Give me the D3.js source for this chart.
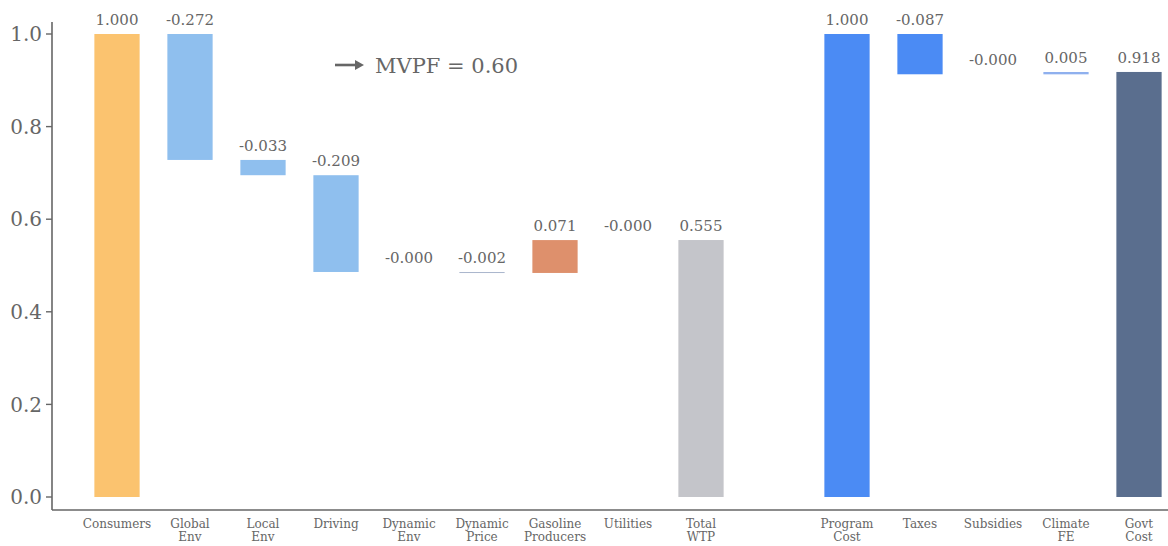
<!DOCTYPE html>
<html>
<head>
<meta charset="utf-8">
<script src="https://cdn.jsdelivr.net/npm/d3@7"></script>
<style>
  body { margin: 0; background: #fff; }
</style>
</head>
<body>
<svg id="chart" width="1168" height="546"></svg>
<script>
// categories, "" is the empty slot between the two groups
const categories = ["Consumers", "Global\nEnv", "Local\nEnv", "Driving", "Dynamic\nEnv", "Dynamic\nPrice",
	"Gasoline\nProducers", "Utilities", "Total\nWTP", "", "Program\nCost", "Taxes", "Subsidies", "Climate\nFE", "Govt\nCost"];
const values = [1.000, -0.272, -0.033, -0.209, -0.0001, -0.002, 0.071, -0.0001, 0.555, null, 1.000, -0.087, -0.0001, 0.005, 0.918];
// "total" bars start at zero, the rest float from the running sum
const kinds = ["total", "step", "step", "step", "step", "step", "step", "step", "total", null, "total", "step", "step", "step", "total"];
const colors = ["#fbc36f", "#8fbfee", "#8fbfee", "#8fbfee", "#8fbfee", "#a9b6cc", "#de906c", "#8fbfee", "#c4c5ca", null,
	"#4b8bf4", "#4b8bf4", "#4b8bf4", "#8fb0ee", "#5a6e8e"];
const yTicks = [0, 0.2, 0.4, 0.6, 0.8, 1.0];
const mvpfLabel = "MVPF = 0.60";

const FONT = "DejaVu Serif, Liberation Serif, serif";
const svg = d3.select("#chart");
const width = 1168;
const axisX = 52, axisY = 510;

const x = d3.scalePoint().domain(d3.range(categories.length)).range([117, 1139]);
const barW = x.step() * 0.62;
const y = d3.scaleLinear().domain([0, 1]).range([497, 34]);

// waterfall running sums
let run = 0;
const bars = [];
categories.forEach((c, i) => {
	if (values[i] === null) { run = 0; return; }
	let y0, y1;
	if (kinds[i] === "total") { y0 = 0; y1 = values[i]; run = values[i]; }
	else { y0 = run; y1 = run + values[i]; run = y1; }
	bars.push({ i, y0, y1, v: values[i], color: colors[i] });
});

const fmt = v => (v < 0 ? "-" : "") + d3.format(".3f")(Math.abs(v));

// rounded-to-zero steps get no mark, only their label
svg.append("g").selectAll("rect")
	.data(bars.filter(d => Math.abs(d.v) >= 0.0005))
	.join("rect")
	.attr("x", d => x(d.i) - barW / 2)
	.attr("width", barW)
	.attr("y", d => y(Math.max(d.y0, d.y1)))
	.attr("height", d => Math.max(1, Math.abs(y(d.y0) - y(d.y1))))
	.attr("fill", d => d.color);

svg.append("g").selectAll("text")
	.data(bars)
	.join("text")
	.attr("x", d => x(d.i))
	.attr("y", d => y(Math.max(d.y0, d.y1)) - 9)
	.attr("text-anchor", "middle")
	.attr("font-family", FONT)
	.attr("font-size", 15)
	.attr("fill", "#666")
	.text(d => fmt(d.v));

// y axis
const yAxis = svg.append("g").attr("transform", `translate(${axisX},0)`);
yAxis.append("line").attr("y1", 22).attr("y2", axisY).attr("stroke", "#666").attr("stroke-width", 1.6);
yAxis.selectAll("g.tick")
	.data(yTicks)
	.join("g")
	.attr("class", "tick")
	.attr("transform", d => `translate(0,${y(d)})`)
	.call(g => g.append("line").attr("x1", -6).attr("x2", 0).attr("stroke", "#666").attr("stroke-width", 1.4))
	.call(g => g.append("text").attr("x", -10).attr("dy", "0.36em").attr("text-anchor", "end")
		.attr("font-family", FONT).attr("font-size", 20).attr("fill", "#666")
		.text(d => d3.format(".1f")(d)));

// x axis
svg.append("line").attr("x1", axisX).attr("x2", width).attr("y1", axisY).attr("y2", axisY)
	.attr("stroke", "#666").attr("stroke-width", 1.6);
svg.append("g").selectAll("text")
	.data(categories.map((c, i) => ({ c, i })).filter(d => d.c))
	.join("text")
	.attr("x", d => x(d.i))
	.attr("y", 528)
	.attr("text-anchor", "middle")
	.attr("font-family", FONT)
	.attr("font-size", 12)
	.attr("fill", "#666")
	.each(function (d) {
		d.c.split("\n").forEach((line, k) => {
			d3.select(this).append("tspan").attr("x", x(d.i)).attr("dy", k ? 13 : 0).text(line);
		});
	});

// MVPF annotation
const note = svg.append("g").attr("transform", "translate(335,65)");
note.append("line").attr("x1", 0).attr("x2", 24).attr("stroke", "#666").attr("stroke-width", 2.6);
note.append("path").attr("d", "M20,-5 L29,0 L20,5 Z").attr("fill", "#666");
note.append("text").attr("x", 40).attr("dy", "0.36em").attr("font-family", FONT)
	.attr("font-size", 21).attr("fill", "#666").text(mvpfLabel);
</script>
</body>
</html>
